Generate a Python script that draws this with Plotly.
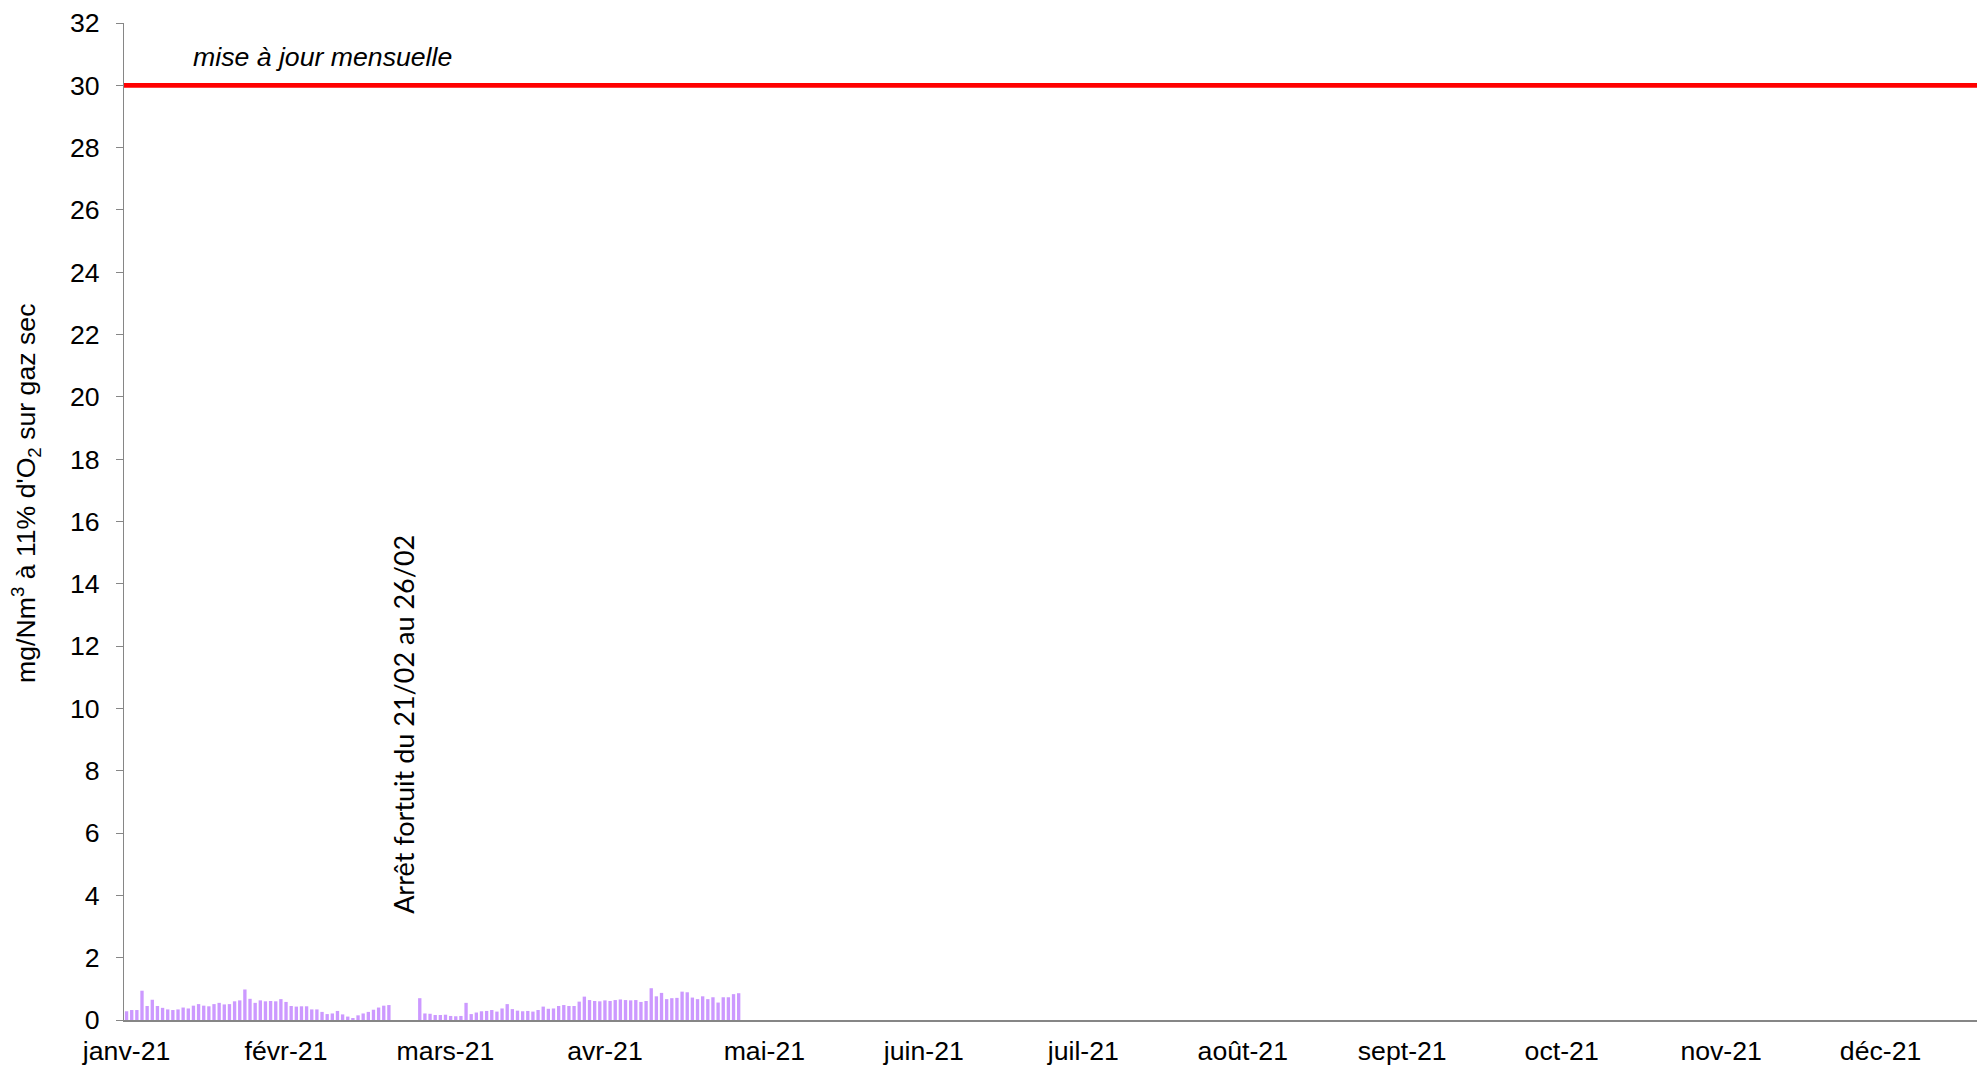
import pandas as pd
import plotly.graph_objects as go

# ---- data ----
start_date = "2021-01-01"
# daily values (mg/Nm3 à 11% O2), None = arrêt fortuit
jan_values = [0.28, 0.32, 0.32, 0.94, 0.45, 0.65, 0.45, 0.39, 0.34, 0.32,
              0.34, 0.40, 0.37, 0.46, 0.51, 0.46, 0.44, 0.51, 0.55, 0.50,
              0.51, 0.60, 0.63, 0.98, 0.68, 0.55, 0.63, 0.60, 0.61, 0.60,
              0.67]
feb_values = [0.58, 0.45, 0.43, 0.44, 0.44, 0.34, 0.34, 0.26, 0.19, 0.21,
              0.29, 0.18, 0.11, 0.06, 0.15, 0.21, 0.26, 0.33, 0.40, 0.46,
              0.48, None, None, None, None, None, 0.70, 0.21]
mar_values = [0.20, 0.16, 0.16, 0.17, 0.13, 0.12, 0.13, 0.55, 0.19, 0.24,
              0.28, 0.29, 0.32, 0.27, 0.37, 0.51, 0.35, 0.30, 0.28, 0.29,
              0.27, 0.32, 0.43, 0.36, 0.37, 0.45, 0.48, 0.45, 0.45, 0.59,
              0.75]
apr_values = [0.64, 0.61, 0.60, 0.63, 0.61, 0.64, 0.66, 0.64, 0.63, 0.64,
              0.58, 0.61, 1.02, 0.76, 0.87, 0.67, 0.70, 0.71, 0.91, 0.89,
              0.72, 0.67, 0.76, 0.67, 0.73, 0.56, 0.73, 0.73, 0.83, 0.86]
values = jan_values + feb_values + mar_values + apr_values

limit_value = 30
limit_label = "mise à jour mensuelle"
stop_label = "Arrêt fortuit du 21/02 au 26/02"
stop_date = "2021-02-23 17:00"
stop_label_y = 9.5

tick_labels = ["janv-21", "févr-21", "mars-21", "avr-21", "mai-21", "juin-21",
               "juil-21", "août-21", "sept-21", "oct-21", "nov-21", "déc-21"]
tick_step_days = 31
y_ticks = list(range(0, 33, 2))
y_title = "mg/Nm<sup>3</sup> à 11% d'O<sub>2</sub> sur gaz sec"

# ---- build ----
t0 = pd.Timestamp(start_date)
dates = pd.date_range(t0, periods=len(values), freq="D")
tickvals = [t0 + pd.Timedelta(days=tick_step_days * i) for i in range(len(tick_labels))]
x_range = [t0 - pd.Timedelta(hours=12), t0 + pd.Timedelta(days=361.3)]

# page has an 8px body margin: compensate so the plot sits where the reference is
OFF = 8
W, H = 1985 - OFF, 1069 - OFF
ml, mr, mt, mb = 124 - OFF, 0, 23 - OFF, 49
pw, ph = W - ml - mr, H - mt - mb
axis_color = "#868686"
font_main = "Liberation Sans, Arial, sans-serif"
fs = 26.67

fig = go.Figure()
fig.add_trace(go.Bar(
    x=dates, y=values,
    marker=dict(color="#CC99FF", line=dict(width=0)),
    showlegend=False,
))

fig.add_shape(type="line", xref="paper", x0=0, x1=1, yref="y",
              y0=limit_value, y1=limit_value,
              line=dict(color="#FF0000", width=4.7), layer="above")

fig.add_annotation(xref="paper", x=(190.5 - 124) / pw, xanchor="left",
                   yref="y", y=30.9, yanchor="middle",
                   text="<i>" + limit_label + "</i>", showarrow=False,
                   font=dict(family=font_main, size=fs, color="black"))

fig.add_annotation(x=stop_date, y=stop_label_y, xref="x", yref="y",
                   text=stop_label, textangle=-90, showarrow=False,
                   font=dict(family="Lato, Carlito, sans-serif", size=27, color="black"))

fig.add_annotation(xref="paper", x=(26 - 124) / pw, xanchor="center",
                   yref="paper", y=(1020 - 494) / ph, yanchor="middle",
                   text=y_title, textangle=-90, showarrow=False,
                   font=dict(family=font_main, size=fs, color="black"))

fig.update_layout(
    width=W, height=H,
    margin=dict(l=ml, r=mr, t=mt, b=mb, pad=0),
    plot_bgcolor="white", paper_bgcolor="white",
    bargap=0.35,
    font=dict(family=font_main, size=fs, color="black"),
    xaxis=dict(
        type="date", range=x_range,
        tickmode="array", tickvals=tickvals, ticktext=tick_labels,
        showgrid=False, zeroline=False,
        showline=True, linecolor=axis_color, linewidth=1.5,
        ticks="", ticklabelstandoff=6,
        tickfont=dict(family=font_main, size=fs, color="black"),
    ),
    yaxis=dict(
        range=[0, 32], tickmode="array", tickvals=y_ticks,
        showgrid=False, zeroline=False,
        showline=True, linecolor=axis_color, linewidth=1,
        ticks="outside", ticklen=7, tickcolor=axis_color, tickwidth=1,
        ticklabelstandoff=11,
        tickfont=dict(family=font_main, size=fs, color="black"),
    ),
)

fig.write_html("out.html")
